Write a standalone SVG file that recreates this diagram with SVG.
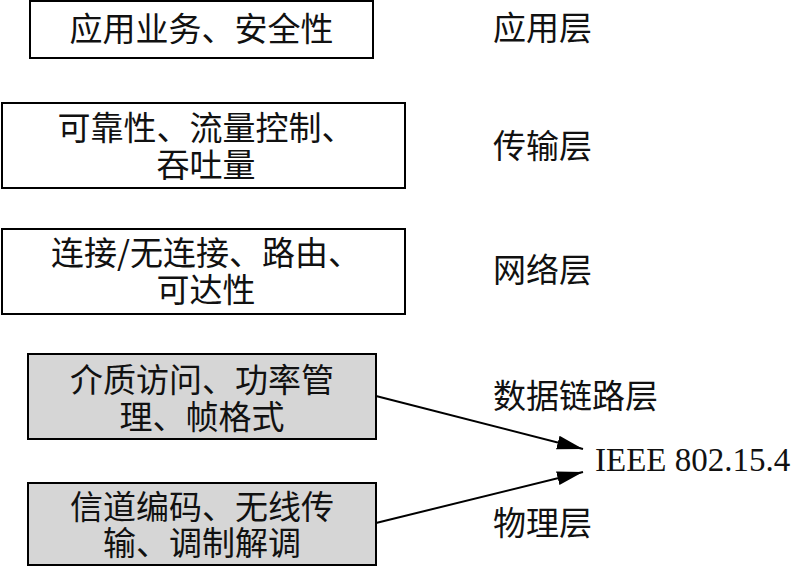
<svg xmlns="http://www.w3.org/2000/svg" width="791" height="567" viewBox="0 0 791 567">
<defs>
<style>
.box{fill:#ffffff;stroke:#000;stroke-width:2}
.gray{fill:#d6d6d6;stroke:#000;stroke-width:2}
.t{font-family:"Noto Sans CJK SC","Noto Sans",sans-serif;font-size:33px;fill:#111;text-anchor:middle}
.l{font-family:"Noto Sans CJK SC","Noto Sans",sans-serif;font-size:33px;fill:#111}
.e{font-family:"Liberation Serif",serif;font-size:33px;fill:#111}
.c{stroke:#000;stroke-width:2;fill:none}
</style>
<marker id="ah" markerUnits="userSpaceOnUse" markerWidth="28" markerHeight="16" refX="26" refY="7" orient="auto">
<path d="M0,0 L26,7 L0,14 Z" fill="#000"/>
</marker>
</defs>
<rect width="791" height="567" fill="#fff"/>
<g id="n1"><rect class="box" x="30" y="1" width="343" height="57"/><text class="t" x="201.5" y="41">应用业务、安全性</text></g>
<g id="n2"><rect class="box" x="2" y="103" width="403" height="85"/><text class="t" x="206" y="140">可靠性、流量控制、<tspan x="206" y="177">吞吐量</tspan></text></g>
<g id="n3"><rect class="box" x="2" y="229" width="403" height="85"/><text class="t" x="206" y="265">连接/无连接、路由、<tspan x="206" y="302">可达性</tspan></text></g>
<g id="n4"><rect class="gray" x="28" y="354" width="348" height="85"/><text class="t" x="202" y="392">介质访问、功率管<tspan x="202" y="429">理、帧格式</tspan></text></g>
<g id="n5"><rect class="gray" x="28" y="483" width="348" height="82"/><text class="t" x="202" y="519">信道编码、无线传<tspan x="202" y="555">输、调制解调</tspan></text></g>
<g id="labels">
<text class="l" x="493" y="40">应用层</text>
<text class="l" x="493" y="158">传输层</text>
<text class="l" x="493" y="282">网络层</text>
<text class="l" x="493" y="408">数据链路层</text>
<text class="l" x="493" y="535">物理层</text>
<text class="e" x="595" y="471">IEEE 802.15.4</text>
</g>
<g id="connectors">
<line class="c" x1="376" y1="396" x2="583" y2="449" marker-end="url(#ah)"/>
<line class="c" x1="376" y1="523" x2="583" y2="472" marker-end="url(#ah)"/>
</g>
</svg>
